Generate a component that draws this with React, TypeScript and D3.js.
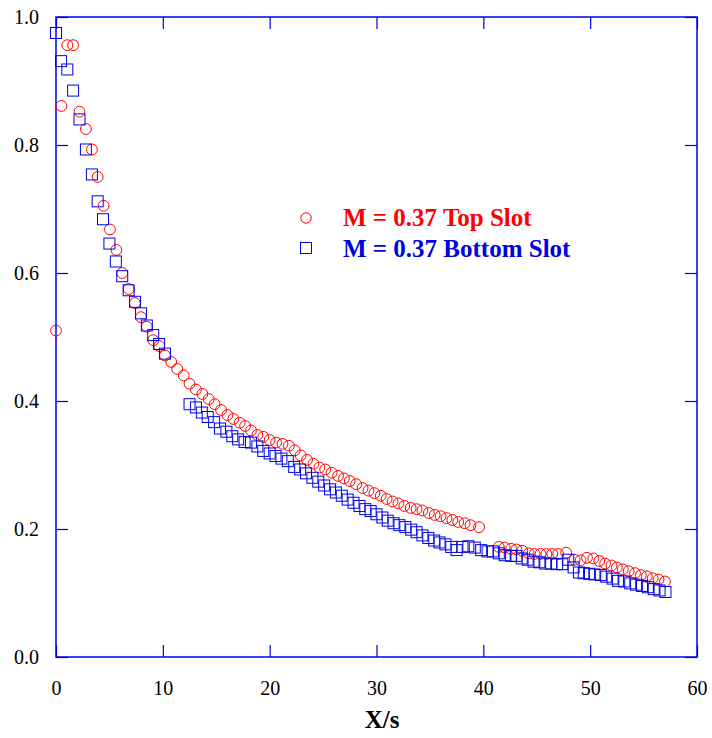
import React, { useEffect, useRef } from "react"
import * as d3 from "d3"

const W = 712
const H = 738
const M = { left: 56, right: 15, top: 17, bottom: 81 }
const FONT = '"Liberation Serif", "Times New Roman", serif'
const RED = "#ff0000"
const BLUE = "#0000e6"

const X_TICKS = [0, 10, 20, 30, 40, 50, 60]
const Y_TICKS = [0, 0.2, 0.4, 0.6, 0.8, 1.0]

// M = 0.37, top slot (circles)
const topX = [
  0, 0.5, 1.06, 1.6, 2.2, 2.8, 3.36, 3.9, 4.45, 5.05, 5.65, 6.2, 6.8, 7.38, 7.95, 8.5, 9.1, 9.65,
  10.2, 10.78, 11.35, 11.95, 12.5, 13.1, 13.7, 14.3, 14.85, 15.45, 16.05, 16.6, 17.2, 17.7, 18.25,
  18.85, 19.4, 20.0, 20.6, 21.2, 21.8, 22.35, 22.9, 23.5, 24.1, 24.65, 25.2, 25.8, 26.4, 26.95,
  27.5, 28.1, 28.7, 29.25, 29.8, 30.4, 30.95, 31.5, 32.05, 32.6, 33.2, 33.75, 34.3, 34.9, 35.45,
  36.0, 36.55, 37.1, 37.65, 38.25, 38.8, 39.6,
  41.45, 42.0, 42.6, 43.1, 43.65, 44.25, 44.8, 45.35, 45.9, 46.45, 47.0, 47.75, 48.55, 49.1,
  49.7, 50.3, 50.85, 51.4, 52.0, 52.5, 53.05, 53.6, 54.2, 54.75, 55.3, 55.85, 56.4, 57.0,
]
const topY = [
  0.51, 0.861, 0.956, 0.956, 0.852, 0.825, 0.793, 0.75, 0.705, 0.668, 0.636, 0.6, 0.575, 0.553,
  0.531, 0.516, 0.495, 0.486, 0.471, 0.461, 0.45, 0.44, 0.427, 0.418, 0.411, 0.403, 0.395, 0.386,
  0.378, 0.372, 0.366, 0.361, 0.354, 0.347, 0.344, 0.339, 0.335, 0.333, 0.33, 0.323, 0.315, 0.308,
  0.302, 0.296, 0.293, 0.288, 0.283, 0.279, 0.275, 0.27, 0.264, 0.26, 0.256, 0.252, 0.247, 0.243,
  0.24, 0.236, 0.233, 0.231, 0.229, 0.225, 0.222, 0.22, 0.217, 0.214, 0.211, 0.209, 0.206, 0.203,
  0.172, 0.171, 0.169, 0.168, 0.166, 0.162, 0.161, 0.161, 0.161, 0.161, 0.161, 0.163, 0.152, 0.151,
  0.155, 0.154, 0.15, 0.146, 0.143, 0.14, 0.137, 0.134, 0.131, 0.128, 0.126, 0.123, 0.121, 0.118,
]

// M = 0.37, bottom slot (squares)
const botX = [
  0, 0.47, 1.06, 1.6, 2.2, 2.8, 3.36, 3.9, 4.4, 5.0, 5.6, 6.2, 6.8, 7.4, 7.95, 8.5, 9.1, 9.65, 10.2,
  12.5, 13.1, 13.65, 14.2, 14.8, 15.35, 15.95, 16.5, 17.05, 17.65, 18.25, 18.85, 19.4, 20.0, 20.55,
  21.1, 21.7, 22.3, 22.85, 23.4, 24.0, 24.55, 25.1, 25.65, 26.2, 26.75, 27.3, 27.85, 28.4, 28.95,
  29.45, 30.0, 30.55, 31.05, 31.6, 32.15, 32.7, 33.25, 33.75, 34.3, 34.85, 35.4, 35.9, 36.45, 37.0,
  37.5, 38.05, 38.6, 39.2, 39.8, 40.4, 40.9, 41.45, 42.0, 42.6, 43.1, 43.6, 44.15, 44.7, 45.25,
  45.8, 46.35, 46.9, 47.4, 47.95, 48.45, 48.95, 49.4, 49.9, 50.4, 51.0, 51.5, 52.1, 52.6, 53.2,
  53.75, 54.3, 54.85, 55.4, 55.95, 56.5, 57.05,
]
const botY = [
  0.975, 0.931, 0.918, 0.885, 0.84, 0.793, 0.754, 0.712, 0.684, 0.646, 0.618, 0.595, 0.573, 0.555,
  0.537, 0.518, 0.503, 0.489, 0.474,
  0.395, 0.39, 0.382, 0.375, 0.367, 0.357, 0.352, 0.345, 0.34, 0.336, 0.335, 0.329, 0.322, 0.318,
  0.314, 0.31, 0.306, 0.297, 0.293, 0.287, 0.28, 0.274, 0.268, 0.262, 0.257, 0.252, 0.246, 0.241,
  0.236, 0.231, 0.228, 0.223, 0.218, 0.213, 0.209, 0.206, 0.203, 0.199, 0.195, 0.19, 0.186, 0.182,
  0.179, 0.176, 0.172, 0.167, 0.172, 0.173, 0.171, 0.167, 0.165, 0.165, 0.162, 0.159, 0.158, 0.158,
  0.154, 0.152, 0.149, 0.148, 0.146, 0.146, 0.145, 0.145, 0.152, 0.14, 0.132, 0.131, 0.13, 0.129,
  0.128, 0.1255, 0.1225, 0.119, 0.118, 0.115, 0.113, 0.111, 0.109, 0.106, 0.104, 0.1016,
]

const LEGEND = ["M = 0.37 Top Slot", "M = 0.37 Bottom Slot"]

export default function App() {
  const svgRef = useRef<SVGSVGElement | null>(null)

  useEffect(() => {
    const svgEl = svgRef.current
    if (!svgEl) return
    const svg = d3.select(svgEl)
    svg.selectAll("*").remove()

    const x = d3.scaleLinear().domain([0, 60]).range([M.left, W - M.right])
    const y = d3.scaleLinear().domain([0, 1]).range([H - M.bottom, M.top])
    const tick = 12

    const styleAxis = (g: d3.Selection<SVGGElement, unknown, null, undefined>) => {
      g.select(".domain").remove()
      g.selectAll(".tick line").attr("stroke", BLUE).attr("stroke-width", 1.2)
      g.selectAll(".tick text")
        .attr("fill", "#000")
        .attr("font-family", FONT)
        .attr("font-size", 20)
    }

    svg
      .append("g")
      .attr("transform", `translate(0,${y(0)})`)
      .call(d3.axisBottom(x).tickValues(X_TICKS).tickSize(-tick).tickPadding(24).tickFormat(d3.format("d")))
      .call(styleAxis)
    svg
      .append("g")
      .attr("transform", `translate(0,${y(1)})`)
      .call(d3.axisTop(x).tickValues(X_TICKS).tickSize(-tick).tickFormat(() => ""))
      .call(styleAxis)
    svg
      .append("g")
      .attr("transform", `translate(${x(0)},0)`)
      .call(d3.axisLeft(y).tickValues(Y_TICKS).tickSize(-tick).tickPadding(17).tickFormat(d3.format(".1f")))
      .call(styleAxis)
    svg
      .append("g")
      .attr("transform", `translate(${x(60)},0)`)
      .call(d3.axisRight(y).tickValues(Y_TICKS).tickSize(-tick).tickFormat(() => ""))
      .call(styleAxis)

    svg
      .append("rect")
      .attr("x", x(0))
      .attr("y", y(1))
      .attr("width", x(60) - x(0))
      .attr("height", y(0) - y(1))
      .attr("fill", "none")
      .attr("stroke", BLUE)
      .attr("stroke-width", 1.5)

    // markers
    const top = d3.zip(topX, topY)
    const bot = d3.zip(botX, botY)
    const sq = 11

    svg
      .append("g")
      .selectAll("circle")
      .data(top)
      .join("circle")
      .attr("cx", d => x(d[0]))
      .attr("cy", d => y(d[1]))
      .attr("r", 5.4)
      .attr("fill", "none")
      .attr("stroke", RED)
      .attr("stroke-width", 1)

    svg
      .append("g")
      .selectAll("rect")
      .data(bot)
      .join("rect")
      .attr("x", d => x(d[0]) - sq / 2)
      .attr("y", d => y(d[1]) - sq / 2)
      .attr("width", sq)
      .attr("height", sq)
      .attr("fill", "none")
      .attr("stroke", BLUE)
      .attr("stroke-width", 1)

    // legend
    const lg = svg.append("g").attr("font-family", FONT).attr("font-weight", "bold").attr("font-size", 25)
    lg.append("circle").attr("cx", 306).attr("cy", 218).attr("r", 5.2).attr("fill", "none").attr("stroke", RED)
    lg.append("text").attr("x", 343).attr("y", 226).attr("fill", RED).text(LEGEND[0])
    lg.append("rect").attr("x", 300.5).attr("y", 242.5).attr("width", 11).attr("height", 11).attr("fill", "none").attr("stroke", BLUE)
    lg.append("text").attr("x", 343).attr("y", 257).attr("fill", BLUE).text(LEGEND[1])

    svg
      .append("text")
      .attr("x", 382)
      .attr("y", 728)
      .attr("text-anchor", "middle")
      .attr("font-family", FONT)
      .attr("font-weight", "bold")
      .attr("font-size", 25)
      .text("X/s")
  }, [])

  return (
    <svg
      ref={svgRef}
      width={W}
      height={H}
      style={{ position: "absolute", left: 0, top: 0, background: "#fff" }}
    />
  )
}
